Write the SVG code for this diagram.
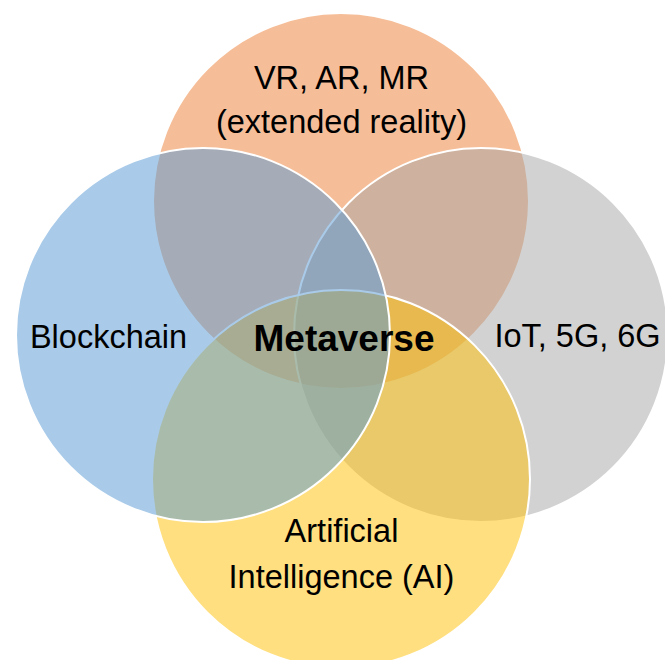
<svg xmlns="http://www.w3.org/2000/svg" width="665" height="660" viewBox="0 0 665 660">
<style>
  .c { stroke: #ffffff; stroke-width: 2; }
  .lbl { font-family: "Liberation Sans", Arial, sans-serif; font-size: 32.5px; fill: #000000; text-anchor: middle; }
  .main { font-family: "Liberation Sans", Arial, sans-serif; font-size: 37px; font-weight: bold; fill: #000000; text-anchor: middle; }
</style>
<rect width="665" height="660" fill="#ffffff"/>
<g id="xr">
  <circle class="c" cx="341" cy="201" r="188" fill="#ED7D31" fill-opacity="0.5"/>
</g>
<g id="iot">
  <circle class="c" cx="481" cy="335" r="187" fill="#A5A5A5" fill-opacity="0.5"/>
</g>
<g id="ai">
  <circle class="c" cx="341" cy="479" r="189" fill="#FFC000" fill-opacity="0.5"/>
</g>
<g id="blockchain">
  <circle class="c" cx="203" cy="335" r="187" fill="#5B9BD5" fill-opacity="0.52"/>
</g>
<g id="connectors"></g>
<g id="labels">
  <text class="lbl" x="341.5" y="89">VR, AR, MR</text>
  <text class="lbl" x="341.5" y="133">(extended reality)</text>
  <text class="lbl" x="108.5" y="348">Blockchain</text>
  <text class="lbl" x="577.5" y="347">IoT, 5G, 6G</text>
  <text class="main" x="344" y="351">Metaverse</text>
  <text class="lbl" x="341.5" y="542">Artificial</text>
  <text class="lbl" x="341.5" y="588">Intelligence (AI)</text>
</g>
</svg>
